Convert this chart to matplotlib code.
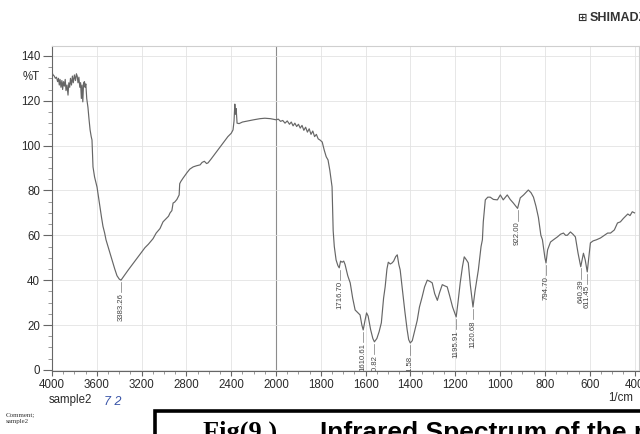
import numpy as np
import matplotlib
matplotlib.use("Agg")
import matplotlib.pyplot as plt
from matplotlib.ticker import FixedLocator, NullFormatter
from matplotlib.patches import Rectangle

# spectrum: wavenumber (1/cm) and %T
wavenumber = [
    4000, 3990, 3980, 3970, 3960, 3950, 3942, 3935, 3928, 3920, 3912, 3905,
    3898, 3890, 3882, 3875, 3866, 3857, 3850, 3842, 3835, 3826, 3818, 3810,
    3800, 3790, 3782, 3775, 3768, 3760, 3752, 3745, 3738, 3732, 3725, 3718,
    3710, 3705, 3698, 3690, 3679, 3670, 3660, 3650, 3643, 3634, 3620, 3598,
    3585, 3571, 3558, 3545, 3530, 3518, 3500, 3480, 3464, 3440, 3420, 3400,
    3384, 3370, 3350, 3320, 3290, 3260, 3230, 3200, 3170, 3140, 3098, 3070,
    3036, 3009, 2980, 2960, 2946, 2930, 2919, 2905, 2885, 2865, 2860, 2850,
    2830, 2794, 2770, 2740, 2710, 2678, 2660, 2640, 2620, 2607, 2580, 2550,
    2520, 2490, 2460, 2430, 2400, 2384, 2375, 2368, 2362, 2356, 2348, 2330,
    2300, 2250, 2200, 2143, 2100, 2050, 2000, 1990, 1980, 1970, 1960, 1950,
    1940, 1932, 1924, 1916, 1908, 1900, 1892, 1884, 1876, 1868, 1860, 1852,
    1844, 1836, 1828, 1820, 1812, 1804, 1794, 1785, 1776, 1768, 1760, 1750,
    1745, 1740, 1732, 1724, 1718, 1712, 1705, 1698, 1692, 1680, 1669, 1658,
    1647, 1635, 1625, 1617, 1611, 1603, 1596, 1589, 1578, 1568, 1561, 1550,
    1540, 1530, 1520, 1513, 1505, 1499, 1490, 1482, 1475, 1466, 1459, 1452,
    1446, 1435, 1425, 1415, 1408, 1401, 1392, 1382, 1370, 1360, 1348, 1337,
    1325, 1314, 1303, 1292, 1280, 1270, 1258, 1248, 1236, 1225, 1212, 1196,
    1188, 1178, 1168, 1160, 1150, 1142, 1133, 1121, 1112, 1097, 1085, 1079,
    1075, 1066, 1055, 1044, 1030, 1012, 999, 986, 968, 955, 941, 930,
    922, 910, 895, 874, 862, 851, 840, 829, 818, 811, 800, 795,
    788, 775, 762, 744, 730, 717, 708, 700, 686, 675, 664, 652,
    640, 632, 628, 620, 611, 604, 597, 585, 570, 552, 535, 520,
    507, 490, 476, 463, 450, 440, 430, 420, 410, 400,
]
transmittance = [
    132.5, 131.5, 131, 130, 130.5, 128.5, 130, 127, 129.5, 126, 129, 125,
    128.5, 126.5, 129.5, 124.5, 127, 122.5, 128, 126, 130, 127, 131, 128,
    131.5, 129, 132, 131, 128, 130.5, 126, 128, 121, 127, 119.5, 128,
    128.5, 126, 127.5, 121, 117, 112, 107, 104, 102.5, 90.5, 86, 81.5,
    77, 72.5, 68, 64, 61, 58, 55, 51.5, 49, 45, 42, 40.5,
    40, 41, 42.5, 44.5, 46.5, 48.5, 50.5, 52.5, 54.5, 56, 58.5, 61,
    63, 66, 67.5, 68.5, 70, 71, 74.4, 74.8, 76, 78, 83, 84,
    85.5, 88, 89.5, 90.5, 91, 91.4, 92.5, 93, 92, 92.3, 94, 96,
    98, 100, 102, 104, 105.5, 107, 111, 118.5, 114, 116.5, 110, 109.8,
    110.5, 111, 111.5, 112, 112.2, 112, 111.5, 111.8, 110.8, 111.2, 110, 111,
    109.5, 110.5, 108.8, 110, 108.5, 109.5, 107.8, 109, 106.8, 108.2, 106, 107.5,
    105, 106.5, 104, 105, 103, 102.5, 101.6, 98, 95, 93.6, 89, 81.6,
    62, 55, 49, 46.5, 45.5, 48.5, 48, 48.5, 47, 42, 38.8, 32,
    26.7, 25.5, 24.5, 20, 17.8, 22, 25.4, 24, 18, 14, 12.5, 14,
    17, 21, 32, 37, 45, 48, 47.2, 47.7, 48.5, 50.5, 51.3, 47,
    44.6, 35, 26, 18, 13.5, 12, 13, 17, 22, 28, 32.5, 37,
    40, 39.5, 38.8, 34, 31, 34.5, 38, 37.5, 37, 33, 28, 23.6,
    30, 38.8, 46, 50.4, 49, 47.7, 38, 28, 35, 44.6, 55, 58,
    66, 75.8, 77, 77, 76, 75.8, 78, 75.8, 78, 76, 74.4, 73,
    72, 76.7, 78, 80.2, 79, 77, 73, 68, 60, 58, 50, 47.7,
    53.5, 57, 58, 59.3, 60.5, 61, 60, 60, 61.5, 60.5, 59.3, 52,
    46, 50, 52, 49, 43.7, 50, 56.6, 57.5, 58, 58.8, 60, 61,
    61, 62.4, 65.5, 66, 67.5, 68.5, 69.5, 68.8, 70.5, 70,
]

# annotated peaks
peak_wn = [3383.26, 1716.70, 1610.61, 1560.82, 1401.58, 1195.91, 1120.68,
           922.00, 794.70, 640.39, 611.45]
peak_t = [40, 45.5, 17.8, 12.5, 12, 23.6, 28, 72, 47.7, 46, 43.7]
peak_labels = ["3383.26", "1716.70", "1610.61", "1560.82", "1401.58",
               "1195.91", "1120.68", "922.00", "794.70", "640.39", "611.45"]

x_ticks = [4000, 3600, 3200, 2800, 2400, 2000, 1800, 1600, 1400, 1200,
           1000, 800, 600, 400]
y_ticks = [0, 20, 40, 60, 80, 100, 120, 140]

plt.rcParams["font.family"] = ["Liberation Sans", "DejaVu Sans"]


def fwd(x):
    x = np.asarray(x, dtype=float)
    return np.where(x > 2000, 2000 + (x - 2000) / 2.0, x)


def inv(u):
    u = np.asarray(u, dtype=float)
    return np.where(u > 2000, 2000 + (u - 2000) * 2.0, u)


fig = plt.figure(figsize=(6.4, 4.34), dpi=100)
ax = fig.add_axes([52 / 640, 1 - 371 / 434, (639 - 52) / 640, (371 - 46) / 434])
ax.set_xscale("function", functions=(fwd, inv))
ax.set_xlim(4000, 380)
ax.set_ylim(-0.5, 144.4)

ink = "#2a2a2a"
grid_c = "#e3e3e3"

for t in x_ticks:
    c, lw = ("#8c8c8c", 0.8) if t == 2000 else (grid_c, 0.6)
    ax.axvline(t, color=c, lw=lw, zorder=0)
for t in y_ticks:
    ax.axhline(t, color=grid_c, lw=0.6, zorder=0)

ax.plot(wavenumber, transmittance, color="#666666", lw=0.85, zorder=3)

for w, t, lab in zip(peak_wn, peak_t, peak_labels):
    ax.plot([w, w], [t - 0.8, t - 5.5], color="#777777", lw=0.5, zorder=3)
    ax.text(w, t - 5.8, lab, rotation=90, ha="center", va="top",
            fontsize=5.6, color="#444444", clip_on=True, zorder=4)

ax.xaxis.set_major_locator(FixedLocator(x_ticks))
minor_x = list(np.arange(4000, 2000, -100)) + list(np.arange(2000, 399, -50))
ax.xaxis.set_minor_locator(FixedLocator(minor_x))
ax.xaxis.set_minor_formatter(NullFormatter())
ax.set_xticklabels([str(t) for t in x_ticks])
ax.yaxis.set_major_locator(FixedLocator(y_ticks))
ax.yaxis.set_minor_locator(FixedLocator(np.arange(0, 145, 5)))
ax.set_yticklabels([str(t) for t in y_ticks])

ax.tick_params(axis="both", which="major", direction="out", colors="#666666",
               labelcolor=ink, labelsize=8.3)
ax.tick_params(axis="y", which="major", length=6.5, pad=2)
ax.tick_params(axis="y", which="minor", length=3, color="#888888")
ax.tick_params(axis="x", which="major", length=3.5, pad=2)
ax.tick_params(axis="x", which="minor", length=2.5, color="#888888")

for side in ["top", "right"]:
    ax.spines[side].set_color("#cfcfcf")
    ax.spines[side].set_linewidth(0.8)
for side in ["left", "bottom"]:
    ax.spines[side].set_color("#666666")
    ax.spines[side].set_linewidth(0.8)

fig.text(31 / 640, 1 - 77.5 / 434, "%T", ha="center", va="center",
         fontsize=8.3, color=ink)
fig.text(621 / 640, 1 - 398 / 434, "1/cm", ha="center", va="center",
         fontsize=8.3, color=ink)
fig.text(49 / 640, 1 - 400 / 434, "sample2", ha="left", va="center",
         fontsize=8.3, color=ink)
fig.text(104 / 640, 1 - 402 / 434, "7 2", ha="left", va="center",
         fontsize=9, color="#3a55a8", style="italic")
fig.text(6 / 640, 1 - 418 / 434, "Comment;\nsample2", ha="left", va="center",
         fontsize=5, color="#333333", family="Liberation Serif",
         linespacing=1.3)
fig.text(577 / 640, 1 - 18 / 434, "\u229e", ha="left", va="center",
         fontsize=8, color="#333333", weight="bold")
fig.text(590 / 640, 1 - 18 / 434, "SHIMADZU", ha="left", va="center",
         fontsize=9, color="#333333", weight="bold")

# caption box, cut by the page edge
fig.patches.append(Rectangle((155 / 640, -0.1), 1.0, (434 - 411) / 434 + 0.1,
                             transform=fig.transFigure, fill=False,
                             edgecolor="black", lw=2.6))
fig.text(203 / 640, 1 - 421 / 434, "Fig(9 )", ha="left", va="top",
         fontsize=19, weight="bold", family="Liberation Serif", color="black")
fig.text(320 / 640, 1 - 421 / 434, "Infrared Spectrum of the prepared sample",
         ha="left", va="top", fontsize=19, weight="bold", color="black")

fig.savefig("out.png", dpi=100)
